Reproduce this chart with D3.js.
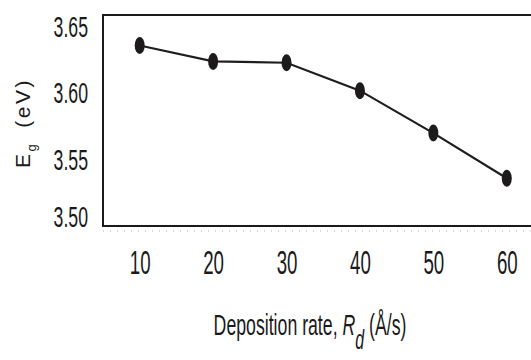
<!DOCTYPE html>
<html>
<head>
<meta charset="utf-8">
<script src="https://cdn.jsdelivr.net/npm/d3@7"></script>
<style>
  body { margin: 0; background: #fff; }
  text { font-family: "Liberation Sans", Arial, sans-serif; fill: #1a1a1a; }
</style>
</head>
<body>
<div id="chart"></div>
<script>
// data
var rates = [10, 20, 30, 40, 50, 60];                       // deposition rate (Å/s)
var gaps = [3.636, 3.624, 3.623, 3.602, 3.570, 3.536];      // band gap Eg (eV)
var yTicks = [3.50, 3.55, 3.60, 3.65];
var xTicks = [10, 20, 30, 40, 50, 60];

var W = 531, H = 360;
var plot = {left: 103, top: 15, bottom: 226, right: 531};

var svg = d3.select("#chart").append("svg")
            .attr("width", W)
            .attr("height", H);

var x = d3.scaleLinear().domain([5, 63.3]).range([plot.left, plot.right]);
var y = d3.scaleLinear().domain([3.50, 3.659]).range([plot.bottom, plot.top]);

// dotted minor line under the frame
svg.append("line")
   .attr("x1", plot.left).attr("x2", W)
   .attr("y1", plot.bottom + 5).attr("y2", plot.bottom + 5)
   .attr("stroke", "#b0b0b0")
   .attr("stroke-width", 1)
   .attr("stroke-dasharray", "1,6");

// frame (right side runs off the picture)
svg.append("rect")
   .attr("x", plot.left).attr("y", plot.top)
   .attr("width", W + 20 - plot.left)
   .attr("height", plot.bottom - plot.top)
   .attr("fill", "none")
   .attr("stroke", "#1a1a1a")
   .attr("stroke-width", 2);

// y axis labels (no tick marks)
var yAxis = svg.append("g")
   .attr("transform", "translate(" + plot.left + ",0)")
   .call(d3.axisLeft(y).tickValues(yTicks).tickSize(0).tickFormat(d3.format(".2f")));
yAxis.select(".domain").remove();
yAxis.selectAll("text")
   .attr("x", 0)
   .style("font-size", "30px")
   .attr("transform", function(d) {
      var shift = d === 3.50 ? -9 : 0;   // bottom label sits a bit higher
      return "translate(-15," + shift + ") scale(0.59,1)";
   });

// x axis labels
var xAxis = svg.append("g")
   .attr("transform", "translate(0," + plot.bottom + ")")
   .call(d3.axisBottom(x).tickValues(xTicks).tickSize(0).tickPadding(24));
xAxis.select(".domain").remove();
xAxis.selectAll("text")
   .style("font-size", "34px")
   .attr("transform", "scale(0.55,1)");

// line + markers
var line = d3.line()
   .x(function(d, i) { return x(rates[i]); })
   .y(function(d) { return y(d); });

svg.append("path")
   .datum(gaps)
   .attr("d", line)
   .attr("fill", "none")
   .attr("stroke", "#1e1e1e")
   .attr("stroke-width", 2.2);

svg.selectAll("ellipse.pt")
   .data(gaps)
   .enter().append("ellipse")
   .attr("class", "pt")
   .attr("cx", function(d, i) { return x(rates[i]); })
   .attr("cy", function(d) { return y(d); })
   .attr("rx", 5)
   .attr("ry", 8.5)
   .attr("fill", "#1c1a1a");

// x title
var xt = svg.append("text")
   .attr("transform", "translate(310,335) scale(0.59,1)")
   .attr("text-anchor", "middle")
   .style("font-size", "30px");
xt.append("tspan").text("Deposition rate, ");
xt.append("tspan").style("font-style", "italic").text("R");
xt.append("tspan").style("font-style", "italic").style("font-size", "27px")
  .attr("dy", 14).text("d");
xt.append("tspan").attr("dy", -14).text(" (Å/s)");

// y title
var yt = svg.append("text")
   .attr("transform", "translate(30,123) rotate(-90)")
   .attr("text-anchor", "middle")
   .style("font-size", "21px")
   .style("letter-spacing", "2.5px");
yt.append("tspan").text("E");
yt.append("tspan").style("font-size", "13px").attr("dy", 6).text("g");
yt.append("tspan").attr("dy", -6).attr("dx", 14).text("(eV)");
</script>
</body>
</html>
